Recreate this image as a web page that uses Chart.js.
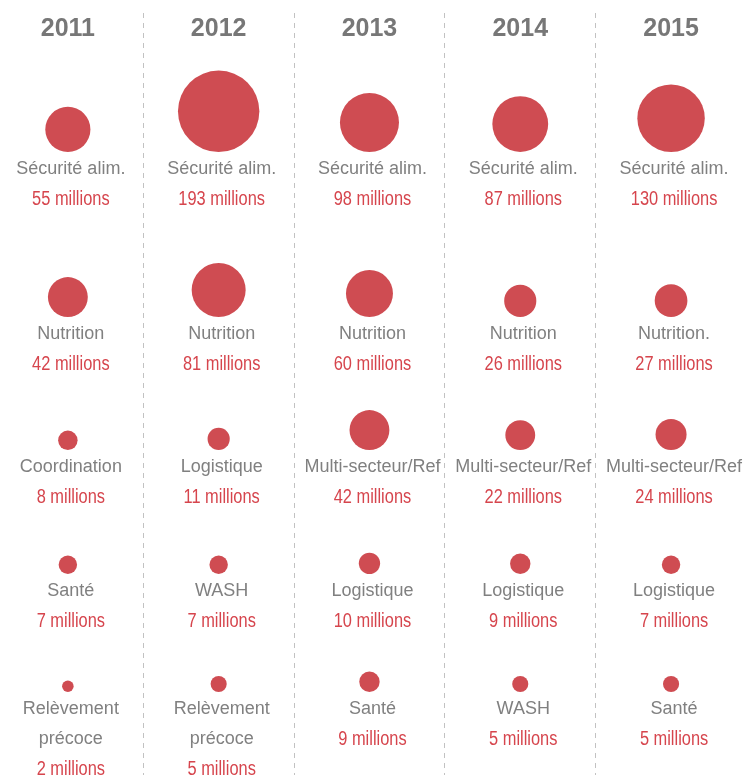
<!DOCTYPE html>
<html>
<head>
<meta charset="utf-8">
<script src="https://cdn.jsdelivr.net/npm/chart.js@4/dist/chart.umd.min.js"></script>
<style>
  html, body { margin: 0; padding: 0; background: #fff; }
  #wrap { width: 754px; height: 775px; position: relative; }
</style>
</head>
<body>
<div id="wrap"><canvas id="c"></canvas></div>
<script>
const YEARS = ['2011', '2012', '2013', '2014', '2015']

const LABELS_2011 = ['Sécurité alim.', 'Nutrition', 'Coordination', 'Santé', ['Relèvement', 'précoce']]
const VALUES_2011 = [55, 42, 8, 7, 2]
const LABELS_2012 = ['Sécurité alim.', 'Nutrition', 'Logistique', 'WASH', ['Relèvement', 'précoce']]
const VALUES_2012 = [193, 81, 11, 7, 5]
const LABELS_2013 = ['Sécurité alim.', 'Nutrition', 'Multi-secteur/Ref', 'Logistique', 'Santé']
const VALUES_2013 = [98, 60, 42, 10, 9]
const LABELS_2014 = ['Sécurité alim.', 'Nutrition', 'Multi-secteur/Ref', 'Logistique', 'WASH']
const VALUES_2014 = [87, 26, 22, 9, 5]
const LABELS_2015 = ['Sécurité alim.', 'Nutrition.', 'Multi-secteur/Ref', 'Logistique', 'Santé']
const VALUES_2015 = [130, 27, 24, 7, 5]

const LABELS = [LABELS_2011, LABELS_2012, LABELS_2013, LABELS_2014, LABELS_2015]
const VALUES = [VALUES_2011, VALUES_2012, VALUES_2013, VALUES_2014, VALUES_2015]

// layout: bottom edge of the bubbles in each row (y scale is in px)
const ROW_BOTTOM = [152, 317, 450, 574, 692]
const LINE_H = 30

const RED = '#cf4c52'
const TEXT_RED = '#d6454d'
const GREY = '#808080'
const YEAR_GREY = '#777777'
const NARROW = 0.82 // the value labels use a condensed face

const radius = (v) => 2.8 * Math.sqrt(v) + 1.8

const points = []
VALUES.forEach((col, i) => {
  col.forEach((v, row) => {
    const r = radius(v)
    points.push({ x: i, y: ROW_BOTTOM[row] - r, r })
  })
})

const textPlugin = {
  id: 'cellText',
  afterDatasetsDraw(chart) {
    const { ctx, scales: { x, y } } = chart
    ctx.save()
    ctx.textAlign = 'center'
    ctx.textBaseline = 'middle'

    ctx.fillStyle = YEAR_GREY
    ctx.font = 'bold 25px "Liberation Sans", Arial, sans-serif'
    YEARS.forEach((yr, i) => ctx.fillText(yr, x.getPixelForValue(i), 29))

    VALUES.forEach((col, i) => {
      const cx = x.getPixelForValue(i) + 3
      col.forEach((v, row) => {
        let ty = y.getPixelForValue(ROW_BOTTOM[row]) + 17
        const lab = [].concat(LABELS[i][row])
        ctx.fillStyle = GREY
        ctx.font = '18px "Liberation Sans", Arial, sans-serif'
        lab.forEach((l) => { ctx.fillText(l, cx, ty); ty += LINE_H })

        ctx.save()
        ctx.translate(cx, ty)
        ctx.scale(NARROW, 1)
        ctx.fillStyle = TEXT_RED
        ctx.font = '20px "Liberation Sans", Arial, sans-serif'
        ctx.fillText(`${v} millions`, 0, 0)
        ctx.restore()
      })
    })
    ctx.restore()
  },
}

new Chart(document.getElementById('c'), {
  type: 'bubble',
  data: {
    datasets: [{
      data: points,
      backgroundColor: RED,
      borderWidth: 0,
      hoverBorderWidth: 0,
      clip: false,
    }],
  },
  options: {
    responsive: true,
    maintainAspectRatio: false,
    animation: false,
    layout: { autoPadding: false, padding: { top: 13, left: 0, right: 0, bottom: 0 } },
    plugins: { legend: { display: false }, tooltip: { enabled: false } },
    events: [],
    scales: {
      x: {
        type: 'linear',
        min: -0.45,
        max: 4.55,
        afterBuildTicks: (axis) => { axis.ticks = [0.5, 1.5, 2.5, 3.5].map((value) => ({ value })) },
        ticks: { display: false, padding: 0 },
        grid: { color: '#c2c2c2', lineWidth: 1, drawTicks: false, tickLength: 0 },
        border: { display: false, dash: [5, 5] },
      },
      y: {
        type: 'linear',
        display: false,
        min: 13,
        max: 775,
        reverse: true,
      },
    },
  },
  plugins: [textPlugin],
})
</script>
</body>
</html>
